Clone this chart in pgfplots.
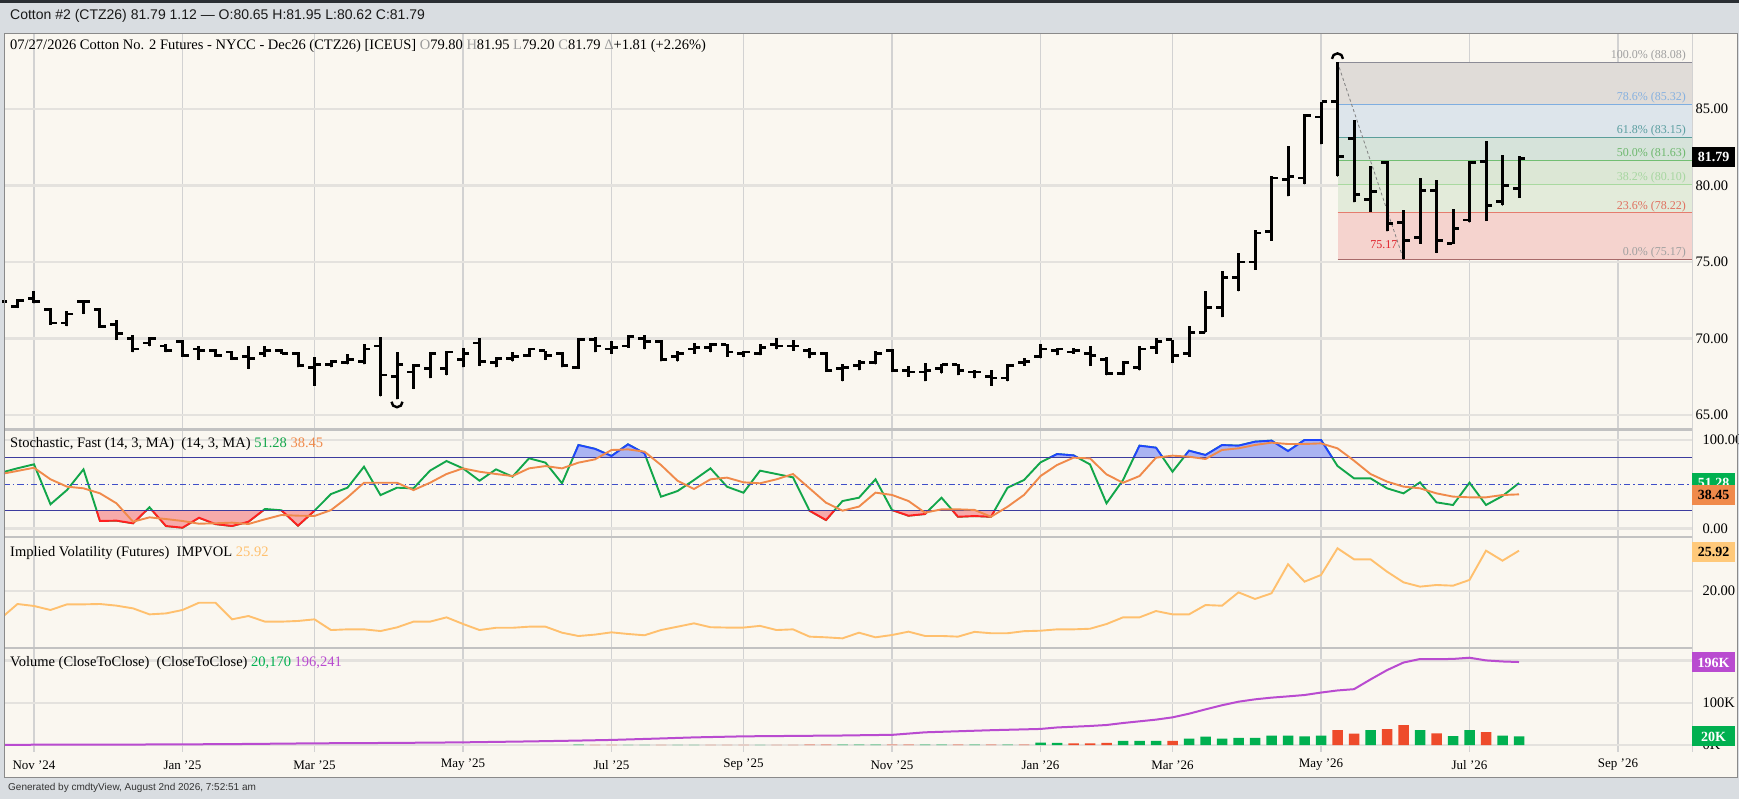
\documentclass[border=0pt]{standalone}
\usepackage{fontspec}
\setmainfont{Liberation Serif}
\newfontfamily\sansf{Liberation Sans}
\usepackage{pgfplots}
\pgfplotsset{compat=1.18}
\usepackage{pgfplotstable}

\definecolor{outerbg}{HTML}{D9DDE1}
\definecolor{topdark}{HTML}{2A2E33}
\definecolor{bgc}{HTML}{FAF7F0}
\definecolor{framec}{HTML}{8A8A8A}
\definecolor{sepc}{HTML}{C2C2C2}
\definecolor{vgrid}{HTML}{D2D2D2}
\definecolor{hgrid}{HTML}{E4E2DE}
\definecolor{kgreen}{HTML}{12A64A}
\definecolor{kblue}{HTML}{1F45FC}
\definecolor{kred}{HTML}{FF2020}
\definecolor{bluefill}{HTML}{AAB4F2}
\definecolor{redfill}{HTML}{F6AAAA}
\definecolor{dorange}{HTML}{F08A4B}
\definecolor{navyl}{HTML}{3C3C9E}
\definecolor{dashb}{HTML}{3F4FC8}
\definecolor{ivc}{HTML}{FFC06E}
\definecolor{ivbox}{HTML}{FFC97A}
\definecolor{vgreen}{HTML}{00B050}
\definecolor{vred}{HTML}{EE4B2B}
\definecolor{purp}{HTML}{B94BD0}
\definecolor{fA}{HTML}{E0DCD8}
\definecolor{fB}{HTML}{DDE5EB}
\definecolor{fC}{HTML}{D6E3DA}
\definecolor{fD}{HTML}{DCE7D5}
\definecolor{fE}{HTML}{E3EBDA}
\definecolor{fF}{HTML}{F5D3CE}
\definecolor{lA}{HTML}{8C8C96}
\definecolor{lB}{HTML}{7FAEE0}
\definecolor{lC}{HTML}{5B9E9A}
\definecolor{lD}{HTML}{72BE72}
\definecolor{lE}{HTML}{A9D9A0}
\definecolor{lF}{HTML}{E57C6E}
\definecolor{lG}{HTML}{A86A6A}
\definecolor{tA}{HTML}{A0A0A0}
\definecolor{tB}{HTML}{86B1E0}
\definecolor{tC}{HTML}{5A9EA0}
\definecolor{tD}{HTML}{6DB86D}
\definecolor{tE}{HTML}{A6D6A0}
\definecolor{tF}{HTML}{E0705F}
\definecolor{lowred}{HTML}{E0202A}
\definecolor{graytxt}{HTML}{9A9A9A}

\pgfdeclareplotmark{arcup}{\pgfpathmoveto{\pgfqpoint{-5.5pt}{0pt}}\pgfpatharc{180}{0}{5.5pt}\pgfusepathqstroke}
\pgfdeclareplotmark{arcdown}{\pgfpathmoveto{\pgfqpoint{-5.5pt}{0pt}}\pgfpatharc{180}{360}{5.5pt}\pgfusepathqstroke}

\pgfplotstableread{
i o h l c
-2 72.2 72.6 72.0 72.4
-1 72.1 72.6 72.0 72.5
0 72.6 73.1 72.3 72.4
1 71.9 72.0 70.9 71.0
2 71.0 71.8 70.8 71.6
3 72.4 72.5 71.6 72.4
4 71.9 72.0 70.7 70.8
5 70.9 71.2 69.9 70.3
6 70.0 70.2 69.1 69.3
7 69.7 70.1 69.5 70.0
8 69.5 69.6 69.1 69.2
9 69.8 69.9 68.8 68.9
10 69.3 69.5 68.6 69.2
11 69.2 69.3 68.8 68.9
12 69.1 69.2 68.6 68.7
13 68.8 69.5 68.0 68.7
14 69.0 69.5 68.8 69.2
15 69.2 69.3 69.0 69.0
16 69.0 69.1 68.1 68.2
17 68.1 68.8 66.9 68.3
18 68.3 68.6 68.1 68.5
19 68.4 69.0 68.3 68.6
20 68.5 69.6 68.3 69.3
21 69.5 70.1 66.2 67.6
22 67.5 69.1 66.0 68.3
23 67.8 68.3 66.7 68.2
24 68.0 69.1 67.4 69.0
25 68.0 69.2 67.6 69.1
26 68.6 69.4 68.1 69.0
27 69.7 70.0 68.2 68.5
28 68.4 68.8 68.1 68.7
29 68.7 69.1 68.5 68.8
30 68.9 69.4 68.8 69.3
31 69.2 69.2 68.6 68.9
32 69.0 69.1 68.1 68.2
33 68.1 70.0 68.0 69.9
34 69.9 70.1 69.1 69.5
35 69.3 69.8 69.0 69.4
36 69.5 70.2 69.4 70.1
37 70.0 70.2 69.3 69.8
38 69.8 69.9 68.5 68.6
39 68.8 69.2 68.5 69.0
40 69.3 69.7 69.0 69.4
41 69.4 69.7 69.1 69.6
42 69.6 69.6 68.8 69.1
43 69.0 69.2 68.8 69.1
44 69.0 69.6 68.9 69.4
45 69.6 70.0 69.3 69.5
46 69.5 69.9 69.2 69.5
47 69.2 69.4 68.7 69.0
48 69.0 69.1 67.8 67.9
49 68.0 68.3 67.2 68.1
50 68.2 68.6 67.9 68.4
51 68.4 69.2 68.3 69.0
52 69.2 69.3 67.8 67.9
53 67.9 68.2 67.5 67.8
54 67.8 68.4 67.2 67.9
55 68.0 68.3 67.7 68.3
56 68.3 68.3 67.6 67.9
57 67.8 67.9 67.4 67.8
58 67.5 67.9 66.9 67.4
59 67.4 68.3 67.2 68.2
60 68.4 68.7 68.2 68.5
61 68.8 69.6 68.7 69.3
62 69.2 69.4 68.9 69.3
63 69.1 69.4 69.0 69.2
64 69.0 69.5 68.2 68.9
65 68.6 68.8 67.6 67.7
66 67.7 68.5 67.6 68.4
67 68.1 69.5 67.9 69.3
68 69.4 70.0 69.0 69.8
69 69.9 69.9 68.4 68.9
70 69.0 70.8 68.8 70.4
71 70.4 73.1 70.4 72.0
72 72.0 74.4 71.4 74.0
73 74.0 75.6 73.1 75.0
74 75.0 77.1 74.5 76.9
75 77.0 80.6 76.4 80.5
76 80.4 82.6 79.3 80.6
77 80.5 84.7 80.1 84.6
78 84.5 85.5 82.7 85.5
79 85.5 88.08 80.6 81.9
80 83.1 84.3 78.9 79.4
81 79.1 81.3 78.3 79.6
82 81.5 81.6 77.0 77.5
83 77.6 78.4 75.17 76.4
84 76.6 80.5 76.2 79.7
85 79.7 80.4 75.6 76.4
86 76.2 78.5 76.2 77.2
87 77.75 81.6 77.6 81.5
88 81.6 82.9 77.7 78.7
89 78.95 82.0 78.7 80.0
90 79.80 81.95 79.20 81.79
}\ohlc

\pgfplotstableread{
i k d
-2 63.0 61.5
-1 68.0 65.0
0 72.5 68.6
1 27.2 55.5
2 43.4 47.2
3 66.8 45.3
4 8.3 39.6
5 8.7 28.3
6 5.7 7.5
7 23.8 12.4
8 2.6 10.5
9 0.7 8.3
10 12.0 5.2
11 4.8 5.7
12 2.6 6.4
13 7.5 4.9
14 21.9 10.2
15 20.4 15.1
16 3.0 14.3
17 20.0 14.0
18 38.8 20.6
19 46.0 35.0
20 69.8 51.6
21 37.6 51.6
22 46.0 51.6
23 45.3 43.3
24 65.3 51.6
25 76.2 61.5
26 67.9 67.9
27 53.9 64.1
28 66.8 61.5
29 58.5 59.2
30 79.3 67.9
31 74.4 70.5
32 51.0 67.9
33 94.3 74.4
34 90.0 78.1
35 81.9 88.7
36 95.1 89.4
37 84.9 86.8
38 35.8 71.7
39 42.2 53.9
40 54.7 44.5
41 67.9 55.5
42 47.1 57.4
43 40.3 52.1
44 65.3 51.0
45 61.5 55.5
46 57.7 61.5
47 20.0 45.3
48 9.4 29.0
49 30.9 20.0
50 34.7 24.6
51 55.5 40.4
52 20.7 37.8
53 14.3 30.9
54 16.2 17.7
55 34.7 21.5
56 13.1 21.5
57 13.9 20.8
58 13.1 13.1
59 46.0 24.4
60 54.7 37.8
61 74.7 59.2
62 84.1 71.7
63 82.6 80.0
64 72.4 79.2
65 28.3 61.1
66 54.7 51.6
67 93.6 59.2
68 91.3 80.0
69 64.1 82.3
70 87.9 81.1
71 83.0 78.5
72 94.3 88.7
73 93.6 90.6
74 98.1 94.4
75 99.3 97.0
76 87.5 95.5
77 100.0 95.5
78 100.0 96.2
79 70.6 90.6
80 56.6 76.6
81 56.6 61.5
82 45.3 52.9
83 39.6 47.2
84 52.1 45.3
85 29.4 39.6
86 26.4 35.9
87 51.7 35.1
88 26.4 35.1
89 36.6 37.7
90 51.28 38.45
}\stoch

\pgfplotstableread{
i v
-2 16.0
-1 18.09
0 17.8
1 17.21
2 18.04
3 18.04
4 18.09
5 17.85
6 17.45
7 16.57
8 16.71
9 17.21
10 18.28
11 18.28
12 15.84
13 16.33
14 15.5
15 15.5
16 15.6
17 15.84
18 14.27
19 14.37
20 14.37
21 14.12
22 14.66
23 15.5
24 15.5
25 16.13
26 15.16
27 14.27
28 14.6
29 14.6
30 14.76
31 14.76
32 13.88
33 13.39
34 13.6
35 13.93
36 13.69
37 13.5
38 14.27
39 14.76
40 15.25
41 14.68
42 14.63
43 14.63
44 14.88
45 14.27
46 14.37
47 13.30
48 13.2
49 13.05
50 13.88
51 13.2
52 13.54
53 14.03
54 13.4
55 13.4
56 13.3
57 14.0
58 13.8
59 13.8
60 14.1
61 14.17
62 14.37
63 14.37
64 14.46
65 15.15
66 16.13
67 16.13
68 17.06
69 16.57
70 16.57
71 17.94
72 17.84
73 19.8
74 18.83
75 19.66
76 23.92
77 21.37
78 22.35
79 26.27
80 24.65
81 24.65
82 22.84
83 21.27
84 20.64
85 20.88
86 20.78
87 21.62
88 25.92
89 24.45
90 25.92
}\iv

\pgfplotstableread{
i v
33 1.0
36 0.6
37 0.6
39 0.6
40 0.6
44 0.6
49 1.2
50 1.2
51 1.0
54 1.2
55 1.2
57 1.0
59 1.2
61 5.5
62 5.0
66 9.5
67 9.5
68 10.0
70 15.0
71 19.7
72 15.0
73 17.0
74 17.0
75 22.0
76 22.0
77 20.5
78 22.0
81 35.5
84 35.5
86 21.3
87 35.5
89 22.0
90 20.17
}\volg

\pgfplotstableread{
i v
34 0.6
35 0.6
38 0.6
41 0.6
42 0.6
43 0.6
45 0.6
46 0.6
47 1.2
48 1.2
52 1.0
53 1.2
56 1.2
58 1.2
60 1.0
63 4.0
64 4.0
65 5.0
69 10.0
79 35.5
80 26.8
82 37.8
83 47.3
85 27.6
88 30.7
}\volr

\pgfplotstableread{
i v
-2 0.5
5 1.0
9 1.5
13 2.5
17 4.0
22 5.0
26 6.3
30 8.5
33 10.5
35 12.0
38 15.5
40 18.0
43 20.5
46 21.5
49 22.5
51 23.6
52 24.0
53 27.0
54 30.0
56 32.5
58 35.0
61 38.0
62 41.5
64 45.0
65 47.3
66 52.0
67 56.0
68 60.0
69 65.4
70 74.0
71 84.3
72 94.0
73 102.4
74 108.0
75 112.0
76 115.0
77 118.2
78 124.0
79 129.0
80 132.0
81 155.0
82 177.0
83 195.0
84 203.3
85 203.0
86 203.5
87 206.4
88 200.0
89 197.5
90 196.2
}\oi

\pgfplotsset{
  panel/.style={
    scale only axis, width=1688pt, anchor=south west,
    xmin=-1.818, xmax=100.485,
    axis line style={draw=none}, major tick length=0pt,
    xtick={0,9,17,26,35,43,52,61,69,78,87,96},
    xmajorgrids, ymajorgrids,
    x grid style={color=vgrid, line width=1.3pt},
    y grid style={color=hgrid, line width=2.4pt},
    yticklabel pos=right,
    yticklabel style={font=\fontsize{14.5}{16}\selectfont},
  },
  overlay/.style={
    scale only axis, width=1688pt, anchor=south west,
    xmin=-1.818, xmax=100.485, hide axis,
  },
  noxlab/.style={xticklabel=\empty},
}
\tikzset{
  fiblab/.style={anchor=south east, inner sep=1pt, font=\fontsize{12}{14}\selectfont},
  vbox/.style={minimum width=43pt, minimum height=20pt, inner sep=0pt, font=\bfseries\fontsize{14}{16}\selectfont},
}

\begin{document}
\begin{tikzpicture}[x=1pt,y=1pt]
\fill[outerbg] (0,0) rectangle (1739,799);
\fill[topdark] (0,796) rectangle (1739,799);
\fill[bgc] (4.5,21) rectangle (1737,765.5);

\node[anchor=west, inner sep=0pt, font=\sansf\fontsize{14}{16}\selectfont, text=black!90] at (10,783) {Cotton \#2 (CTZ26) 81.79 1.12 — O:80.65 H:81.95 L:80.62 C:81.79};
\node[anchor=west, inner sep=0pt, font=\sansf\fontsize{10}{12}\selectfont, text=black!80] at (8,11) {Generated by cmdtyView, August 2nd 2026, 7:52:51 am};

% ---------------- main price panel
\begin{axis}[panel, noxlab, at={(4pt,371pt)}, height=394pt,
  ymin=64.13, ymax=89.93,
  ytick={65,70,75,80,85}, yticklabels={65.00,70.00,75.00,80.00,85.00}]
\addplot[fill=fA, draw=none] coordinates {(79,88.08) (100.485,88.08) (100.485,85.32) (79,85.32)} -- cycle;
\addplot[fill=fB, draw=none] coordinates {(79,85.32) (100.485,85.32) (100.485,83.15) (79,83.15)} -- cycle;
\addplot[fill=fC, draw=none] coordinates {(79,83.15) (100.485,83.15) (100.485,81.63) (79,81.63)} -- cycle;
\addplot[fill=fD, draw=none] coordinates {(79,81.63) (100.485,81.63) (100.485,80.10) (79,80.10)} -- cycle;
\addplot[fill=fE, draw=none] coordinates {(79,80.10) (100.485,80.10) (100.485,78.22) (79,78.22)} -- cycle;
\addplot[fill=fF, draw=none] coordinates {(79,78.22) (100.485,78.22) (100.485,75.17) (79,75.17)} -- cycle;
\addplot[draw=lA, line width=1pt] coordinates {(79,88.08) (100.485,88.08)};
\addplot[draw=lB, line width=1pt] coordinates {(79,85.32) (100.485,85.32)};
\addplot[draw=lC, line width=1pt] coordinates {(79,83.15) (100.485,83.15)};
\addplot[draw=lD, line width=1.2pt] coordinates {(79,81.63) (100.485,81.63)};
\addplot[draw=lE, line width=1.2pt] coordinates {(79,80.10) (100.485,80.10)};
\addplot[draw=lF, line width=1.2pt] coordinates {(79,78.22) (100.485,78.22)};
\addplot[draw=lG, line width=1.2pt] coordinates {(79,75.17) (100.485,75.17)};
\node[fiblab, text=tA] at (axis cs:100.18,88.08) {100.0\% (88.08)};
\node[fiblab, text=tB] at (axis cs:100.18,85.32) {78.6\% (85.32)};
\node[fiblab, text=tC] at (axis cs:100.18,83.15) {61.8\% (83.15)};
\node[fiblab, text=tD] at (axis cs:100.18,81.63) {50.0\% (81.63)};
\node[fiblab, text=tE] at (axis cs:100.18,80.10) {38.2\% (80.10)};
\node[fiblab, text=tF] at (axis cs:100.18,78.22) {23.6\% (78.22)};
\node[fiblab, text=tA] at (axis cs:100.18,75.17) {0.0\% (75.17)};
\node[anchor=east, inner sep=1pt, font=\fontsize{12}{14}\selectfont, text=lowred] at (axis cs:82.7,76.16) {75.17};
\addplot[gray, line width=0.8pt, dash pattern=on 3pt off 2.5pt] coordinates {(79,88.08) (83,75.17)};
\addplot[only marks, mark=*, mark size=0.01pt, mark options={draw=none, fill=none}, error bars/.cd, y dir=plus, y explicit, error mark=none,
  error bar style={line width=3pt, black}] table[x=i, y=l, y error expr=\thisrow{h}-\thisrow{l}] {\ohlc};
\addplot[only marks, mark=-, mark size=2.6pt, mark options={line width=2.8pt, black}] table[x expr=\thisrow{i}-0.21, y=o] {\ohlc};
\addplot[only marks, mark=-, mark size=2.6pt, mark options={line width=2.8pt, black}] table[x expr=\thisrow{i}+0.21, y=c] {\ohlc};
\addplot[only marks, mark=arcup, mark options={line width=2.4pt, black}] coordinates {(79,88.3)};
\addplot[only marks, mark=arcdown, mark options={line width=2.4pt, black}] coordinates {(22,65.85)};
\end{axis}

% ---------------- stochastic panel (base)
\begin{axis}[panel, noxlab, at={(4pt,263pt)}, height=105.5pt,
  ymin=-8.7, ymax=110.8, ytick={0,100}, yticklabels={0.00,100.00},
  yticklabel style={xshift=7pt}]
\addplot[color=kgreen, line width=1.9pt] table[x=i, y=k] {\stoch};
\end{axis}
% overbought overlay (80..110.8)
\begin{axis}[overlay, at={(4pt,341.30pt)}, height=27.19pt, ymin=80, ymax=110.8]
\addplot[fill=bluefill, draw=none] table[x=i, y=k] {\stoch} -- (axis cs:90,-100) -- (axis cs:-2,-100) -- cycle;
\addplot[color=kblue, line width=1.9pt] table[x=i, y=k] {\stoch};
\end{axis}
% oversold overlay (-8.7..20)
\begin{axis}[overlay, at={(4pt,263pt)}, height=25.34pt, ymin=-8.7, ymax=20]
\addplot[fill=redfill, draw=none] table[x=i, y=k] {\stoch} -- (axis cs:90,200) -- (axis cs:-2,200) -- cycle;
\addplot[color=kred, line width=1.9pt] table[x=i, y=k] {\stoch};
\end{axis}
% reference lines and %D
\begin{axis}[overlay, at={(4pt,263pt)}, height=105.5pt, ymin=-8.7, ymax=110.8]
\addplot[navyl, line width=1pt] coordinates {(-1.818,80) (100.485,80)};
\addplot[navyl, line width=1pt] coordinates {(-1.818,20) (100.485,20)};
\addplot[dashb, line width=1pt, dash pattern=on 6pt off 3pt on 1.5pt off 3pt] coordinates {(-1.818,50) (100.485,50)};
\addplot[dorange, line width=1.9pt] table[x=i, y=d] {\stoch};
\end{axis}

% ---------------- implied volatility panel
\begin{axis}[panel, noxlab, at={(4pt,152pt)}, height=109pt,
  ymin=11.78, ymax=27.78, ytick={20}, yticklabels={20.00},
  yticklabel style={xshift=7pt}]
\addplot[ivc, line width=1.9pt] table[x=i, y=v] {\iv};
\end{axis}

% ---------------- volume panel
\begin{axis}[panel, at={(4pt,47pt)}, height=103pt,
  ymin=-16.5, ymax=227, ytick={0,100,200}, yticklabels={0K,100K,{}},
  yticklabel style={xshift=7pt},
  xticklabels={Nov '24,Jan '25,Mar '25,May '25,Jul '25,Sep '25,Nov '25,Jan '26,Mar '26,May '26,Jul '26,Sep '26},
  xticklabel style={font=\fontsize{13}{15}\selectfont, anchor=center, yshift=-13pt}]
\addplot[ybar, bar width=10.5pt, bar shift=0pt, fill=vgreen, draw=none] table[x=i, y=v] {\volg};
\addplot[ybar, bar width=10.5pt, bar shift=0pt, fill=vred, draw=none] table[x=i, y=v] {\volr};
\addplot[purp, line width=2pt] table[x=i, y=v] {\oi};
\end{axis}

\draw[sepc, line width=2.5pt] (4.5,369.5) -- (1692,369.5);
\draw[sepc, line width=2.5pt] (4.5,262) -- (1692,262);
\draw[sepc, line width=2.5pt] (4.5,151) -- (1692,151);
\draw[vgrid, line width=0.8pt] (1692,47) -- (1692,765.5);
\draw[framec, line width=1pt] (4.5,21) rectangle (1737,765.5);

\node[anchor=west, inner sep=0pt, font=\fontsize{14.5}{16}\selectfont] at (10,753) {07/27/2026 Cotton No. 2 Futures - NYCC - Dec26 (CTZ26) [ICEUS] \textcolor{graytxt}{O}79.80 \textcolor{graytxt}{H}81.95 \textcolor{graytxt}{L}79.20 \textcolor{graytxt}{C}81.79 \textcolor{graytxt}{Δ}+1.81 (+2.26\%)};
\node[anchor=west, inner sep=0pt, font=\fontsize{14.5}{16}\selectfont] at (10,355) {Stochastic, Fast (14, 3, MA)\ \ (14, 3, MA) \textcolor{kgreen}{51.28} \textcolor{dorange}{38.45}};
\node[anchor=west, inner sep=0pt, font=\fontsize{14.5}{16}\selectfont] at (10,246) {Implied Volatility (Futures)\ \ IMPVOL \textcolor{ivc}{25.92}};
\node[anchor=west, inner sep=0pt, font=\fontsize{14.5}{16}\selectfont] at (10,136) {Volume (CloseToClose)\ \ (CloseToClose) \textcolor{vgreen}{20,170} \textcolor{purp}{196,241}};

\node[vbox, fill=black, text=white] at (1713.5,642) {81.79};
\node[vbox, fill=vgreen, text=white] at (1713.5,316) {51.28};
\node[vbox, fill=dorange, text=black] at (1713.5,304) {38.45};
\node[vbox, fill=ivbox, text=black] at (1713.5,247.3) {25.92};
\node[vbox, fill=purp, text=white] at (1713.5,136.5) {196K};
\node[vbox, fill=vgreen, text=white] at (1713.5,62.5) {20K};

\pgfresetboundingbox
\path[use as bounding box] (0,0) rectangle (1739,799);
\end{tikzpicture}
\end{document}
